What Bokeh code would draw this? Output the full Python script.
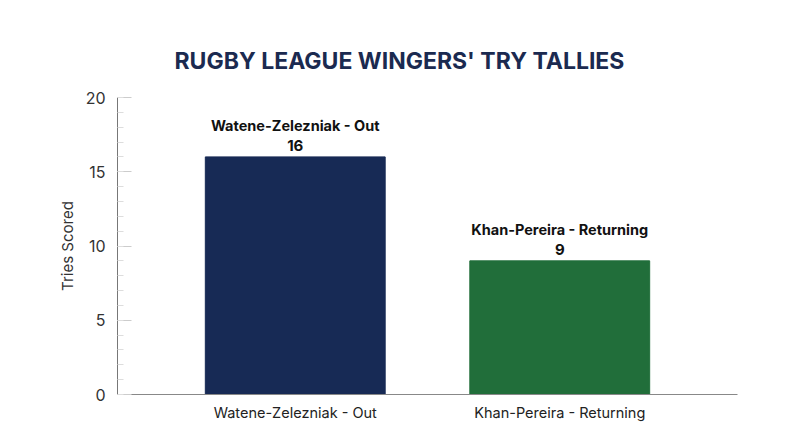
from bokeh.plotting import figure
from bokeh.models import FactorRange, Range1d, ColumnDataSource, Title, FixedTicker
from bokeh.core.properties import value
from bokeh.embed import file_html
from bokeh.resources import INLINE

players = ["Watene-Zelezniak - Out", "Khan-Pereira - Returning"]
tries = [16, 9]
colors = ["#172a55", "#216e3a"]
y_ticks = [0, 5, 10, 15, 20]

src = ColumnDataSource(dict(x=players, top=tries, color=colors,
                            num=[str(t) for t in tries]))

p = figure(width=784, height=431, output_backend="svg", toolbar_location=None,
           x_range=FactorRange(factors=players, range_padding=0.172,
                               range_padding_units="percent"),
           y_range=Range1d(0, 20),
           min_border_left=117, min_border_right=47, min_border_top=97,
           min_border_bottom=37)

p.vbar(x="x", top="top", width=0.68, color="color", source=src)

p.text(x="x", y="top", text="num", source=src, y_offset=-6,
       text_align="center", text_baseline="bottom",
       text_font=value("Inter"), text_font_style="bold",
       text_font_size="15px", text_color="#111111")
p.text(x="x", y="top", text="x", source=src, y_offset=-23,
       text_align="center", text_baseline="bottom",
       text_font=value("Inter"), text_font_style="bold",
       text_font_size="14.5px", text_color="#111111")

t = Title(text="RUGBY LEAGUE WINGERS' TRY TALLIES", align="left",
          text_font="Inter", text_font_style="bold", text_font_size="23px",
          text_color="#1b2a50", standoff=45, offset=57)
p.add_layout(t, "above")

p.grid.visible = False
p.outline_line_color = None

ya = p.yaxis[0]
ya.ticker = FixedTicker(ticks=y_ticks, minor_ticks=list(range(0, 21)))
ya.axis_label = "Tries Scored"
ya.axis_label_text_font = "Inter"
ya.axis_label_text_font_style = "normal"
ya.axis_label_text_font_size = "15px"
ya.axis_label_text_color = "#333333"
ya.axis_label_standoff = 6
ya.major_label_text_font = "Inter"
ya.major_label_text_font_size = "16px"
ya.major_label_text_color = "#333333"
ya.major_label_standoff = 12
ya.axis_line_color = "#777777"
ya.major_tick_in = 14
ya.major_tick_out = 0
ya.minor_tick_in = 6
ya.minor_tick_out = 0
ya.major_tick_line_color = "#cccccc"
ya.minor_tick_line_color = "#dddddd"

xa = p.xaxis[0]
xa.major_label_text_font = "Inter"
xa.major_label_text_font_size = "14.5px"
xa.major_label_text_color = "#222222"
xa.major_label_standoff = 3
xa.axis_line_color = "#888888"
xa.major_tick_line_color = None
xa.minor_tick_line_color = None

open("out.html", "w").write(file_html(p, INLINE))
